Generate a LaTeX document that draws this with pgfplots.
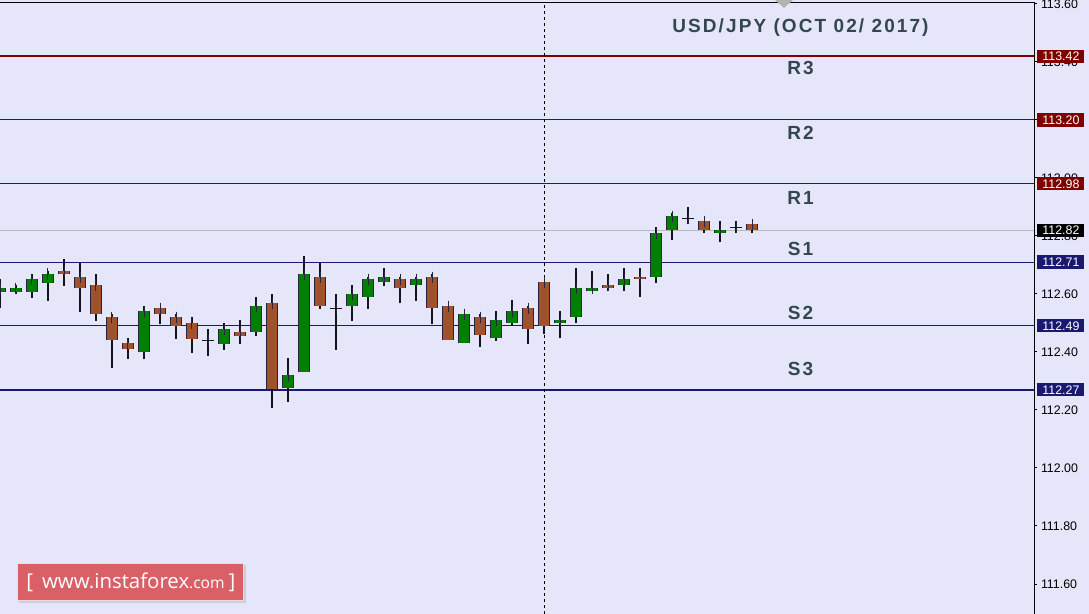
\documentclass[border=0pt]{standalone}
\usepackage{pgfplots}
\pgfplotsset{compat=1.18}
\usepackage{pgfplotstable}
\usepackage{fontspec}
\setmainfont{Liberation Sans}
\newfontfamily\wmfont{Open Sans}
\definecolor{bg}{RGB}{230,230,250}
\definecolor{bull}{RGB}{0,128,0}
\definecolor{bear}{RGB}{160,82,45}
\definecolor{edge}{RGB}{40,36,64}
\definecolor{wick}{RGB}{20,20,30}
\definecolor{resist}{RGB}{128,0,0}
\definecolor{support}{RGB}{25,25,112}
\definecolor{titlec}{RGB}{52,70,78}
\definecolor{wmred}{RGB}{218,96,104}

\pgfplotstableread{
k O H L C
0 112.608 112.652 112.552 112.620
1 112.608 112.631 112.599 112.620
2 112.608 112.669 112.587 112.651
3 112.639 112.679 112.577 112.669
4 112.678 112.721 112.629 112.668
5 112.658 112.708 112.539 112.620
6 112.631 112.669 112.508 112.530
7 112.520 112.531 112.346 112.440
8 112.430 112.448 112.377 112.409
9 112.399 112.559 112.377 112.540
10 112.551 112.551 112.498 112.530
11 112.520 112.531 112.446 112.489
12 112.499 112.520 112.398 112.446
13 112.440 112.479 112.387 112.440
14 112.429 112.500 112.408 112.478
15 112.468 112.510 112.429 112.456
16 112.468 112.590 112.456 112.558
17 112.568 112.600 112.208 112.271
18 112.277 112.379 112.229 112.320
19 112.330 112.731 112.330 112.668
20 112.658 112.708 112.549 112.558
21 112.551 112.600 112.408 112.551
22 112.558 112.631 112.508 112.600
23 112.589 112.658 112.549 112.651
24 112.640 112.690 112.629 112.658
25 112.651 112.658 112.568 112.620
26 112.630 112.658 112.577 112.651
27 112.658 112.669 112.498 112.551
28 112.558 112.558 112.440 112.440
29 112.430 112.530 112.430 112.530
30 112.520 112.531 112.418 112.458
31 112.447 112.541 112.439 112.509
32 112.499 112.579 112.491 112.540
33 112.551 112.559 112.429 112.478
34 112.640 112.640 112.461 112.489
35 112.499 112.540 112.447 112.509
36 112.520 112.689 112.499 112.620
37 112.609 112.678 112.609 112.620
38 112.630 112.668 112.609 112.620
39 112.630 112.689 112.609 112.651
40 112.658 112.689 112.589 112.651
41 112.658 112.830 112.639 112.809
42 112.820 112.878 112.787 112.868
43 112.861 112.899 112.840 112.861
44 112.851 112.851 112.809 112.820
45 112.809 112.851 112.778 112.820
46 112.830 112.851 112.809 112.830
47 112.840 112.840 112.809 112.820
}\candles

\tikzset{pricebox/.style={fill=#1, text=white, anchor=west, inner sep=0pt, minimum width=23.5pt,
  minimum height=6.6pt, xshift=1.5pt, font=\fontsize{6.2}{7}\selectfont},
  lvl/.style={text=titlec, font=\fontsize{9.5}{11}\selectfont\bfseries\addfontfeatures{LetterSpace=11}}}

\begin{document}
\begin{tikzpicture}
\fill[bg] (0,0) rectangle (544.5pt,307pt);
\begin{axis}[
  at={(0,0)}, anchor=south west,
  scale only axis, width=517pt, height=305.5pt,
  xmin=0, xmax=64.625, ymin=111.4966, ymax=113.6034,
  clip=false,
  axis background/.style={fill=bg},
  axis line style={draw=none},
  xtick=\empty,
  ytick={111.6,111.8,112,112.2,112.4,112.6,112.8,113,113.2,113.4,113.6},
  yticklabel pos=right,
  tick align=outside,
  major tick length=1.5pt,
  ytick style={black, line width=0.5pt},
  yticklabel style={font=\fontsize{6.2}{7}\selectfont, inner sep=1pt, xshift=0.8pt},
  /pgf/number format/.cd, fixed, fixed zerofill, precision=2, assume math mode=true,
]
% level lines
\addplot[resist, line width=1pt] coordinates {(0,113.42)(64.625,113.42)};
\addplot[resist, line width=0.5pt] coordinates {(0,113.20)(64.625,113.20)};
\addplot[resist, line width=0.5pt] coordinates {(0,112.98)(64.625,112.98)};
\addplot[gray!55, line width=0.5pt] coordinates {(0,112.82)(64.625,112.82)};
\addplot[support, line width=0.5pt] coordinates {(0,112.71)(64.625,112.71)};
\addplot[support, line width=0.5pt] coordinates {(0,112.49)(64.625,112.49)};
\addplot[support, line width=1.1pt] coordinates {(0,112.27)(64.625,112.27)};
% vertical dotted separator
\addplot[black, line width=0.5pt, dash pattern=on 1.5pt off 1.5pt] coordinates {(34,111.4966)(34,113.6034)};
% wicks
\addplot[draw=none, mark=none, error bars/.cd, y dir=plus, y explicit, error mark=none,
  error bar style={line width=0.6pt, draw=wick}]
  table[x=k, y=L, y error plus expr={\thisrow{H}-\thisrow{L}}] {\candles};
% body edges
\addplot[draw=none, mark=none, error bars/.cd, y dir=plus, y explicit, error mark=none,
  error bar style={line width=5.6pt, draw=edge}]
  table[x=k, y expr={min(\thisrow{O},\thisrow{C})}, y error plus expr={abs(\thisrow{C}-\thisrow{O})}] {\candles};
% bull bodies
\addplot[draw=none, mark=none, error bars/.cd, y dir=plus, y explicit, error mark=-,
  error bar style={line width=4.6pt, draw=bull},
  error mark options={draw=edge, line width=0.5pt, mark size=2.8pt}]
  table[x=k, y=O, y error plus expr={max(\thisrow{C}-\thisrow{O},0)}] {\candles};
% bear bodies
\addplot[draw=none, mark=none, error bars/.cd, y dir=plus, y explicit, error mark=-,
  error bar style={line width=4.6pt, draw=bear},
  error mark options={draw=edge, line width=0.5pt, mark size=2.8pt}]
  table[x=k, y=C, y error plus expr={max(\thisrow{O}-\thisrow{C},0)}] {\candles};
% doji crosses (open = close)
\addplot[only marks, mark=-, mark size=2.8pt, mark options={draw=wick, line width=0.6pt},
  restrict expr to domain={\thisrow{C}-\thisrow{O}}{-0.0001:0.0001}, unbounded coords=discard]
  table[x=k, y=O] {\candles};
% right-hand price boxes
\node[pricebox=resist] at (axis cs:64.625,113.42) {113.42};
\node[pricebox=resist] at (axis cs:64.625,113.20) {113.20};
\node[pricebox=resist] at (axis cs:64.625,112.98) {112.98};
\node[pricebox=black] at (axis cs:64.625,112.82) {112.82};
\node[pricebox=support] at (axis cs:64.625,112.71) {112.71};
\node[pricebox=support] at (axis cs:64.625,112.49) {112.49};
\node[pricebox=support] at (axis cs:64.625,112.27) {112.27};
% title and level names
\node[lvl] at (axis cs:50.03,113.518) {USD/JPY (OCT 02/ 2017)};
\node[lvl] at (axis cs:50.03,113.381) {R3};
\node[lvl] at (axis cs:50.03,113.155) {R2};
\node[lvl] at (axis cs:50.03,112.931) {R1};
\node[lvl] at (axis cs:50.03,112.755) {S1};
\node[lvl] at (axis cs:50.03,112.534) {S2};
\node[lvl] at (axis cs:50.03,112.340) {S3};
\end{axis}
% frame: top and right
\draw[black, line width=0.5pt] (0,305.5pt) -- (517pt,305.5pt) -- (517pt,0);
% small marker at top
\fill[gray!60] (387.5pt,307pt) -- (396.5pt,307pt) -- (392pt,303pt) -- cycle;
% watermark
\fill[gray!50, opacity=0.6] (9.5pt,5.5pt) rectangle (123pt,24.5pt);
\fill[wmred] (8.5pt,6.5pt) rectangle (122pt,25.5pt);
\draw[white!75!wmred, line width=0.4pt] (8.7pt,6.7pt) rectangle (121.8pt,25.3pt);
\node[text=white, font=\wmfont\fontsize{10.2}{11}\selectfont, anchor=west, inner sep=0pt] at (13pt,16pt)
  {[\hspace{4.5pt}www.instaforex{\fontsize{7.8}{9}\selectfont.com}\hspace{2pt}]};
\pgfresetboundingbox
\path[use as bounding box] (0,0) rectangle (544.5pt,307pt);
\end{tikzpicture}
\end{document}
